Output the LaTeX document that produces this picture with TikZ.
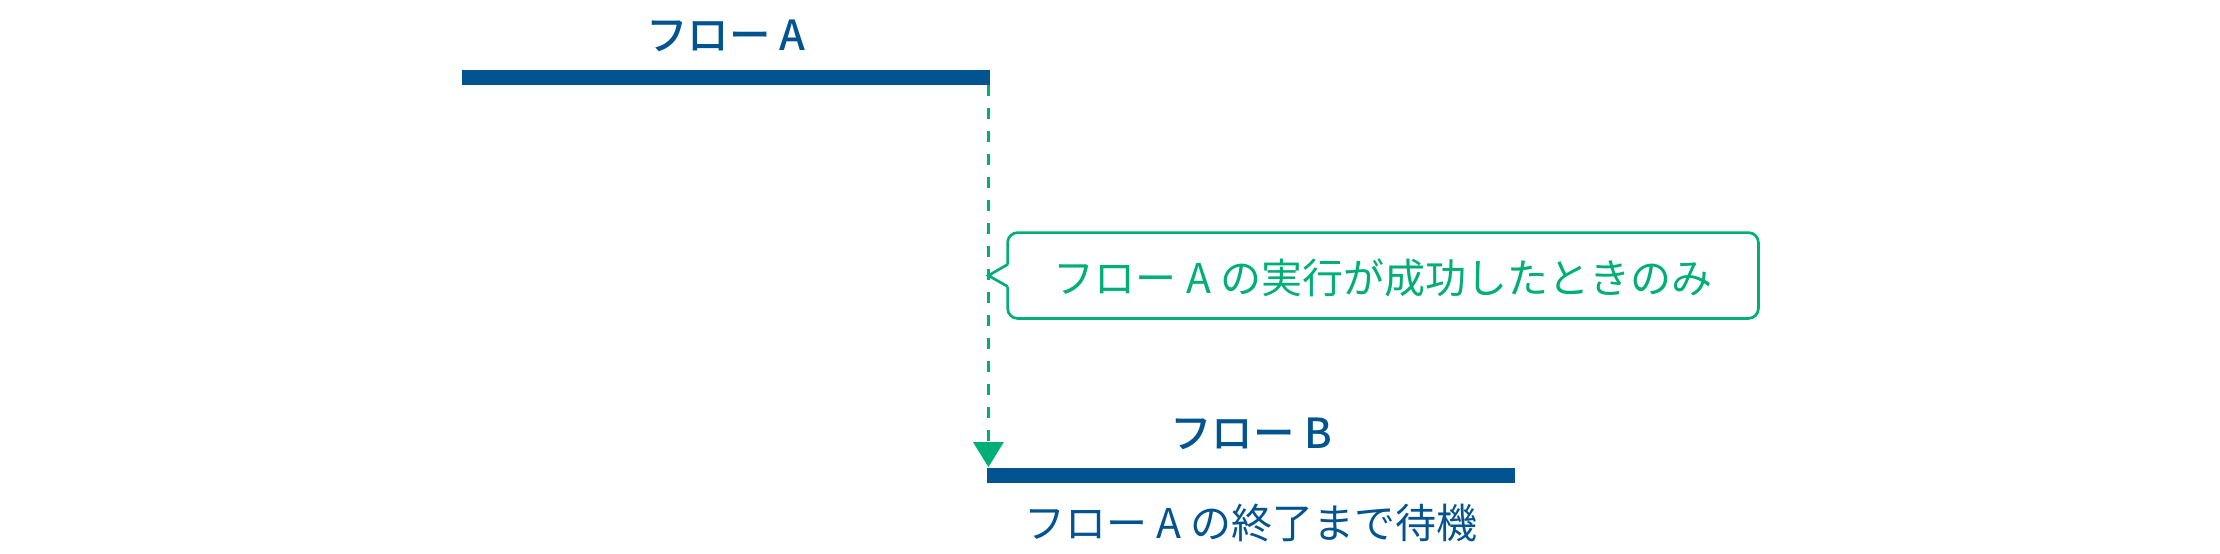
\documentclass[tikz,border=0pt]{standalone}
\usepackage{fontspec}
\setmainfont{Noto Sans CJK JP}
\newfontfamily\headfont{Noto Sans CJK JP Medium}
\usetikzlibrary{arrows.meta}
\definecolor{flowblue}{RGB}{2,84,144}
\definecolor{okgreen}{RGB}{0,174,120}
\tikzset{
  flowbar/.style={fill=flowblue, inner sep=0pt, minimum height=7.5pt},
  flowname/.style={text=flowblue, font=\fontsize{20.75pt}{24pt}\selectfont\headfont, anchor=base},
  flownote/.style={text=flowblue, font=\fontsize{20.5pt}{24pt}\selectfont, anchor=base},
  waitlink/.style={draw=okgreen, line width=1.5pt, dash pattern=on 5.5pt off 6pt, -{Triangle[width=15pt,length=12.5pt]}},
  calloutline/.style={draw=okgreen, line width=1.35pt, line join=miter},
}
\begin{document}
\begin{tikzpicture}[x=0.5pt,y=-0.5pt]
\useasboundingbox (0,0) rectangle (2220,553);
	% the two flows
	\node[flowbar, minimum width=263.75pt] (flowA) at (725.75,77.5) {};
	\node[flowbar, minimum width=264pt] (flowB) at (1251,475) {};
	\node[flowname] (nameA) at (726,50) {フロー A};
	\node[flowname] (nameB) at (1251,448) {フロー B};
	\node[flownote] (waitB) at (1251,538) {フロー A の終了まで待機};
	% dependency
	\coordinate (drop) at ([xshift=-.75pt]flowA.south east);
	\draw[waitlink] (drop) -- (drop |- flowB.north);
	% condition callout
	\node[inner sep=0pt, minimum width=375pt, minimum height=42.5pt] (cond) at (1383,275.5) {};
	\node[text=okgreen, font=\fontsize{20.5pt}{24pt}\selectfont, anchor=base] (condtext) at (1383,293) {フロー A の実行が成功したときのみ};
	\draw[calloutline, rounded corners=5pt] ([yshift=5.5pt]cond.west) |- (cond.north east) |- (cond.south west) -- ([yshift=-5.5pt]cond.west);
	\draw[calloutline] ([yshift=5.5pt]cond.west) -- (cond.west -| drop) -- ([yshift=-5.5pt]cond.west);
\end{tikzpicture}
\end{document}
